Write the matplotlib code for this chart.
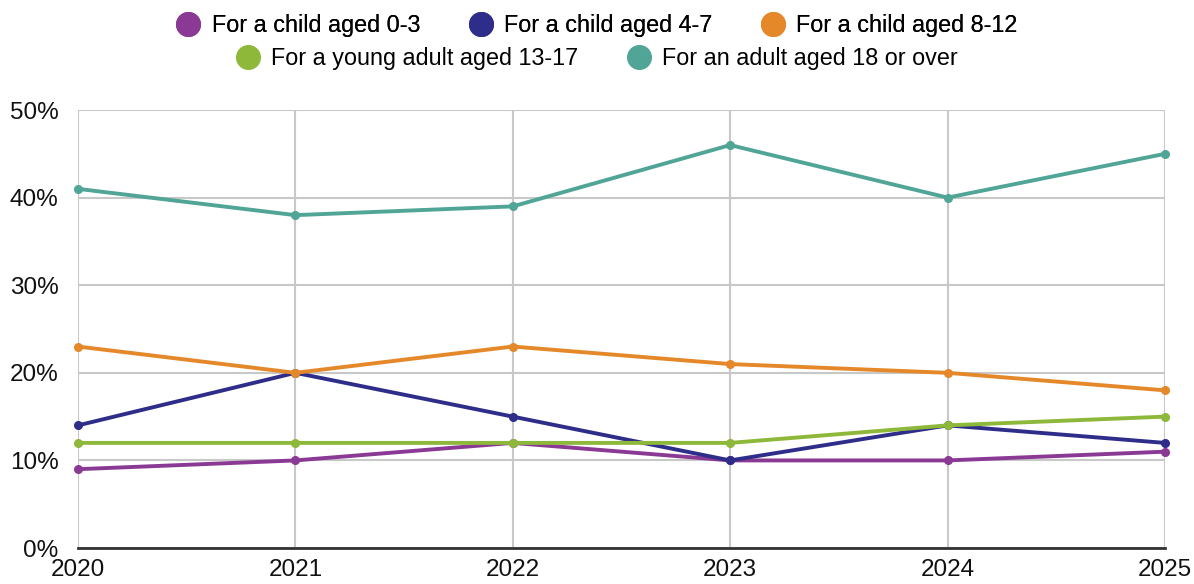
import matplotlib.pyplot as plt
from matplotlib.lines import Line2D
from matplotlib.ticker import PercentFormatter

plt.rcParams['font.family'] = ['Liberation Sans', 'DejaVu Sans']

years = [2020, 2021, 2022, 2023, 2024, 2025]
labels = [
    'For a child aged 0-3',
    'For a child aged 4-7',
    'For a child aged 8-12',
    'For a young adult aged 13-17',
    'For an adult aged 18 or over',
]
age_0_3 = [9, 10, 12, 10, 10, 11]
age_4_7 = [14, 20, 15, 10, 14, 12]
age_8_12 = [23, 20, 23, 21, 20, 18]
age_13_17 = [12, 12, 12, 12, 14, 15]
age_18_plus = [41, 38, 39, 46, 40, 45]
colors = ['#8a3a94', '#2f2d8a', '#e5882a', '#8db83a', '#50a597']

series = [age_0_3, age_4_7, age_8_12, age_13_17, age_18_plus]

fig = plt.figure(figsize=(11.94, 5.84), dpi=100)
ax = fig.add_axes([0.0653, 0.0616, 0.9104, 0.75])

for vals, c in zip(series, colors):
    ax.plot(years, vals, color=c, lw=2.8, marker='o', ms=5.5, zorder=3,
            solid_capstyle='round', clip_on=False)

ax.set_xlim(2020, 2025)
ax.set_ylim(0, 50)
ax.set_xticks(years)
ax.set_yticks(range(0, 51, 10))
ax.yaxis.set_major_formatter(PercentFormatter(decimals=0))
ax.grid(True, color='#c8c8c8', lw=1.5, zorder=0)
ax.set_axisbelow(True)
for s in ['top', 'right', 'left']:
    ax.spines[s].set_visible(False)
ax.spines['bottom'].set_color('#333333')
ax.spines['bottom'].set_linewidth(2)
ax.spines['bottom'].set_zorder(4)
ax.tick_params(length=0, labelsize=17.5, colors='#111111')
ax.tick_params(axis='y', pad=14)
ax.tick_params(axis='x', pad=8)

handles = [Line2D([], [], ls='none', marker='o', ms=17, color=c) for c in colors]
leg_kw = dict(loc='center', frameon=False, fontsize=16.8, handletextpad=0.5,
              columnspacing=2.1, handlelength=1.0)
leg1 = fig.legend(handles[:3], labels[:3], ncol=3,
                  bbox_to_anchor=(0.5, 0.956), **leg_kw)
fig.legend(handles[3:], labels[3:], ncol=2,
           bbox_to_anchor=(0.5, 0.899), **leg_kw)
fig.add_artist(leg1)

fig.savefig('out.png', dpi=100)
